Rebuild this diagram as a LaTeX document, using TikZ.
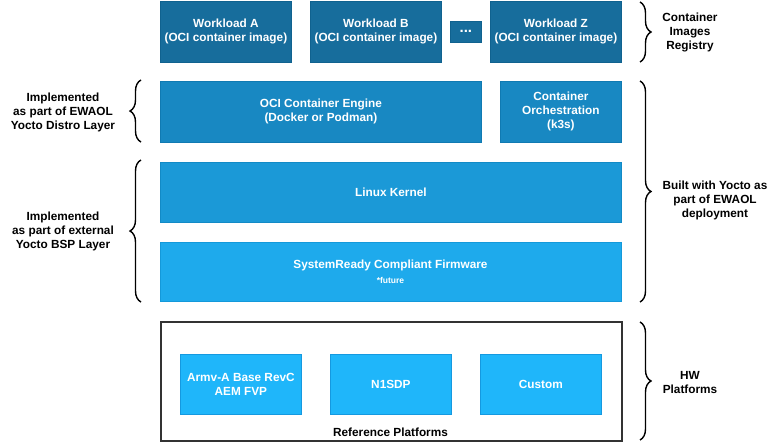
\documentclass[tikz,border=0pt]{standalone}
\usepackage{fontspec}
\setmainfont{Liberation Sans}
\usetikzlibrary{decorations.pathreplacing}
\definecolor{cwork}{HTML}{176D9C}
\definecolor{cworkd}{HTML}{10628F}
\definecolor{ceng}{HTML}{1888C2}
\definecolor{cengd}{HTML}{107AB2}
\definecolor{ckern}{HTML}{1B99D7}
\definecolor{ckernd}{HTML}{128AC6}
\definecolor{cfirm}{HTML}{1EAAEC}
\definecolor{cfirmd}{HTML}{1499DA}
\definecolor{cplat}{HTML}{1FB6FA}
\definecolor{cplatd}{HTML}{1599E0}
\definecolor{cframe}{HTML}{333333}
\tikzset{
  x=1pt, y=-1pt,
  blk/.style={anchor=north west, inner sep=0pt, align=center, text=white,
     font=\fontsize{11.8}{14}\selectfont\bfseries, line width=0.8pt},
  lbl/.style={align=center, text=black, inner sep=0pt,
     font=\fontsize{11.8}{14}\selectfont\bfseries},
  brc/.style={decorate, decoration={brace, amplitude=11pt}, line width=1.4pt, black}
}
\begin{document}
\begin{tikzpicture}
\useasboundingbox (0,0) rectangle (771,442);
% workloads
\node[blk, fill=cwork, draw=cworkd, minimum width=131pt, minimum height=61pt] (wa) at (160,1) {Workload A\\(OCI container image)};
\node[blk, fill=cwork, draw=cworkd, minimum width=131pt, minimum height=61pt] (wb) at (310,1) {Workload B\\(OCI container image)};
\node[blk, fill=cwork, draw=cworkd, minimum width=31pt, minimum height=21pt, font=\fontsize{15}{15}\selectfont\bfseries] (dots) at (450,21) {\raisebox{1pt}{...}};
\node[blk, fill=cwork, draw=cworkd, minimum width=131pt, minimum height=61pt] (wz) at (490,1) {Workload Z\\(OCI container image)};
% engine
\node[blk, fill=ceng, draw=cengd, minimum width=321pt, minimum height=61pt] (eng) at (160,81) {OCI Container Engine\\(Docker or Podman)};
\node[blk, fill=ceng, draw=cengd, minimum width=121pt, minimum height=61pt] (orch) at (500,81) {Container\\Orchestration\\(k3s)};
% kernel
\node[blk, fill=ckern, draw=ckernd, minimum width=461pt, minimum height=60pt] (kern) at (160,162) {Linux Kernel};
% firmware
\node[blk, fill=cfirm, draw=cfirmd, minimum width=461pt, minimum height=59pt] (firm) at (160,242) {};
\node[lbl, text=white] (firmt) at (390.5,265) {SystemReady Compliant Firmware};
\node[lbl, text=white, font=\fontsize{8.5}{10}\selectfont\bfseries] (fut) at (390.5,280) {*future};
% reference platforms
\node[anchor=north west, draw=cframe, line width=1.8pt, minimum width=461pt, minimum height=119pt, inner sep=0pt] (refp) at (160,321) {};
\node[blk, fill=cplat, draw=cplatd, minimum width=121pt, minimum height=60pt] (armv) at (180,354) {Armv-A Base RevC\\AEM FVP};
\node[blk, fill=cplat, draw=cplatd, minimum width=121pt, minimum height=60pt] (n1) at (330,354) {N1SDP};
\node[blk, fill=cplat, draw=cplatd, minimum width=121pt, minimum height=60pt] (cust) at (480,354) {Custom};
\node[lbl] (reft) at (390.5,432) {Reference Platforms};
% left braces
\coordinate (lb1a) at (141,142);
\coordinate (lb1b) at (141,80);
\draw[brc] (lb1a) -- (lb1b);
\coordinate (lb2a) at (141,302);
\coordinate (lb2b) at (141,160);
\draw[brc] (lb2a) -- (lb2b);
\node[lbl] (lt1) at (63,112.5) {Implemented\\as part of EWAOL\\Yocto Distro Layer};
\node[lbl] (lt2) at (63,231) {Implemented\\as part of external\\Yocto BSP Layer};
% right braces
\coordinate (rb1a) at (640,2);
\coordinate (rb1b) at (640,62);
\draw[brc] (rb1a) -- (rb1b);
\coordinate (rb2a) at (640,81);
\coordinate (rb2b) at (640,302);
\draw[brc] (rb2a) -- (rb2b);
\coordinate (rb3a) at (640,322);
\coordinate (rb3b) at (640,440);
\draw[brc] (rb3a) -- (rb3b);
\node[lbl] (rt1) at (690,32.5) {Container\\Images\\Registry};
\node[lbl] (rt2) at (715,200) {Built with Yocto as\\part of EWAOL\\deployment};
\node[lbl] (rt3) at (690,382) {HW\\Platforms};
\end{tikzpicture}
\end{document}
